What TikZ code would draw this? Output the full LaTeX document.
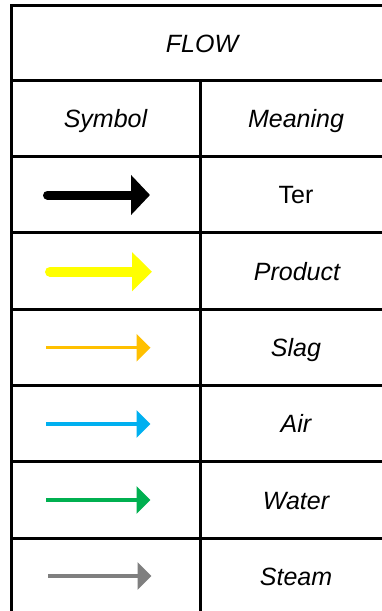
\documentclass[tikz,border=0pt]{standalone}
\usepackage{fontspec}
\setmainfont{Liberation Sans}
\usetikzlibrary{arrows.meta}
\definecolor{cyellow}{HTML}{FFFF00}
\definecolor{corange}{HTML}{FFC000}
\definecolor{cblue}{HTML}{00B0F0}
\definecolor{cgreen}{HTML}{00B050}
\definecolor{cgray}{HTML}{7F7F7F}
\tikzset{
  grid/.style={line width=3pt, black},
  lbl/.style={font=\fontsize{25}{30}\selectfont, anchor=base, inner sep=0pt},
  ilbl/.style={lbl, font=\fontsize{25}{30}\selectfont\itshape},
  thickarrow/.style={line width=9pt, line cap=round, -{Triangle[length=19pt, width=39pt]}},
  thinarrow/.style={line width=3.5pt, -{Triangle[length=14pt, width=27pt]}}
}
\begin{document}
\begin{tikzpicture}[x=1pt, y=-1pt]
\useasboundingbox (0,0) rectangle (382,611);
\clip (0,0) rectangle (382,611);
\fill[white] (0,0) rectangle (382,611);
% table grid
\draw[grid] (11,620) -- (11,5.5) -- (400,5.5);
\foreach \yy in {80.5,156.5,232.5,309,385,461.5,538} {
  \draw[grid] (11,\yy) -- (400,\yy);
}
\draw[grid] (200,80.5) -- (200,620);
% header texts
\node[ilbl] (flow) at (202,52) {FLOW};
\node[ilbl] (symbol) at (105.5,127.5) {Symbol};
\node[ilbl] (meaning) at (296,127.5) {Meaning};
% meanings
\node[lbl] (ter) at (296,203.5) {Ter};
\node[ilbl] (product) at (297,280) {Product};
\node[ilbl] (slag) at (296,356) {Slag};
\node[ilbl] (air) at (296,432.5) {Air};
\node[ilbl] (water) at (296,509) {Water};
\node[ilbl] (steam) at (296,585) {Steam};
% arrow endpoints
\coordinate (a1s) at (47.5,195); \coordinate (a1e) at (150,195);
\coordinate (a2s) at (50,271.7); \coordinate (a2e) at (152,271.7);
\coordinate (a3s) at (46,347.7); \coordinate (a3e) at (150.5,347.7);
\coordinate (a4s) at (46,424);   \coordinate (a4e) at (150.5,424);
\coordinate (a5s) at (46,500);   \coordinate (a5e) at (150.5,500);
\coordinate (a6s) at (48,576);   \coordinate (a6e) at (151.5,576);
% arrows
\draw[thickarrow, black] (a1s) -- (a1e);
\draw[thickarrow, cyellow, line width=10pt, -{Triangle[length=20pt, width=38pt]}] (a2s) -- (a2e);
\draw[thinarrow, corange] (a3s) -- (a3e);
\draw[thinarrow, cblue] (a4s) -- (a4e);
\draw[thinarrow, cgreen] (a5s) -- (a5e);
\draw[thinarrow, cgray] (a6s) -- (a6e);
\end{tikzpicture}
\end{document}
